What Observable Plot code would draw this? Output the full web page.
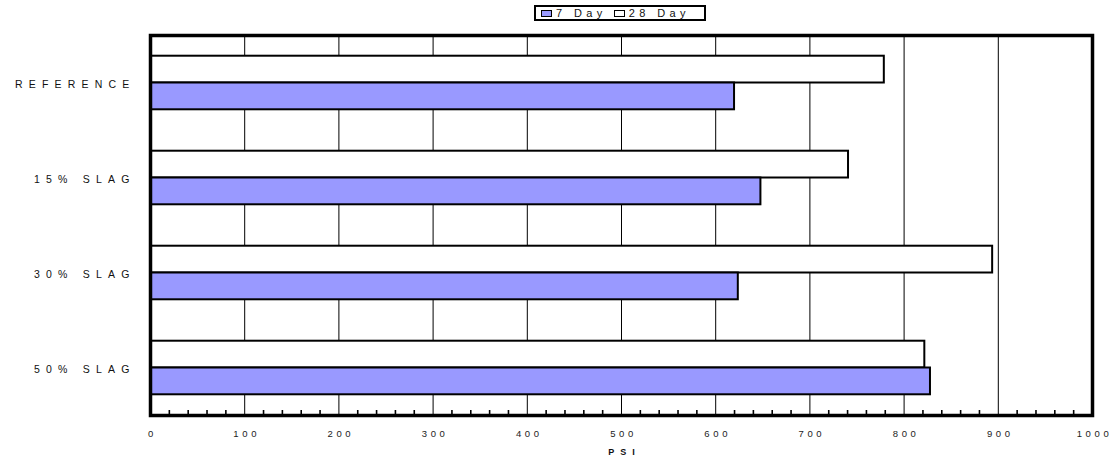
<!DOCTYPE html>
<html>
<head>
<meta charset="utf-8">
<script src="https://cdn.jsdelivr.net/npm/d3@7"></script>
<script src="https://cdn.jsdelivr.net/npm/@observablehq/plot@0.6"></script>
<style>
  body { margin: 0; background: #fff; font-family: "Liberation Sans", Arial, sans-serif; }
  #wrap { position: relative; width: 1114px; }
  #head { position: relative; height: 30px; }
  #legend {
    position: absolute; left: 534px; top: 5px; width: 172px; height: 16px;
    box-sizing: border-box; border: 2px solid #000; background: #fff;
    display: flex; align-items: center; font-size: 11px; color: #111;
  }
  #legend .item { display: flex; align-items: center; letter-spacing: 4.4px; }
  #legend .sw { width: 9px; height: 5px; border: 1.5px solid #000; margin: 0 4px 0 5px; }
  #legend .item + .item .sw { margin-left: 7px; }
  svg text { font-family: "Liberation Sans", Arial, sans-serif; }
  g[aria-label="y-axis tick label"] text { letter-spacing: 6.2px; fill: #111; }
  g[aria-label="x-axis tick label"] text { letter-spacing: 3.6px; fill: #222; }
  g[aria-label="text"] text { letter-spacing: 6px; fill: #111; }
</style>
</head>
<body>
<div id="wrap">
  <div id="head"><div id="legend"></div></div>
  <div id="chart"></div>
</div>
<script>
// Compressive strength by mix, 7-day and 28-day results (psi)
const categories = ["REFERENCE", "15% SLAG", "30% SLAG", "50% SLAG"];
const series = ["7 Day", "28 Day"];
const day7 = [620, 648, 624, 828];
const day28 = [779, 741, 894, 822];
const xTicks = [0, 100, 200, 300, 400, 500, 600, 700, 800, 900, 1000];
const seriesColors = ["#9999ff", "#ffffff"];

const rows7 = categories.map((c, i) => ({cat: c, psi: day7[i]}));
const rows28 = categories.map((c, i) => ({cat: c, psi: day28[i]}));

// gridlines at the labelled hundreds, small ticks every 20 along the bottom
const gridTicks = xTicks.filter(t => t > 0 && t < 1000);
const minorTicks = d3.range(20, 1000, 20).filter(t => t % 100 !== 0);

const width = 1114, height = 431;
const mTop = 5, mBottom = 46, mLeft = 150, mRight = 22;
const band = (height - mTop - mBottom) / categories.length;
const groupPad = band * 0.218;
const barH = band * 0.282;
const lastCat = categories[categories.length - 1];

const chart = Plot.plot({
  width, height,
  marginTop: mTop, marginBottom: mBottom, marginLeft: mLeft, marginRight: mRight,
  style: {background: "#fff", overflow: "visible"},
  x: {domain: [0, 1000]},
  y: {domain: categories, padding: 0},
  marks: [
    Plot.ruleX(gridTicks, {stroke: "#000", strokeWidth: 1}),
    Plot.tickX(minorTicks, {x: d => d, y: () => lastCat,
      insetTop: band - 5, stroke: "#000", strokeWidth: 1.6}),
    Plot.barX(rows28, {x: "psi", y: "cat", fill: seriesColors[1], stroke: "#000", strokeWidth: 2,
      insetTop: groupPad, insetBottom: band - groupPad - barH}),
    Plot.barX(rows7, {x: "psi", y: "cat", fill: seriesColors[0], stroke: "#000", strokeWidth: 2,
      insetTop: groupPad + barH, insetBottom: groupPad}),
    Plot.frame({stroke: "#000", strokeWidth: 3.5}),
    Plot.axisX({ticks: xTicks, tickFormat: d => String(d), tickSize: 0, tickPadding: 15,
      fontSize: 9.5, dx: 2, label: null}),
    Plot.axisY({tickSize: 0, tickPadding: 15, fontSize: 10.5, dy: 2, label: null}),
    Plot.text(["PSI"], {frameAnchor: "bottom", dy: 39, dx: 3, fontSize: 9, fontWeight: "bold"})
  ]
});
document.getElementById("chart").appendChild(chart);

// legend box above the plot
const legend = d3.select("#legend");
series.forEach((s, i) => {
  const item = legend.append("div").attr("class", "item");
  item.append("div").attr("class", "sw").style("background", seriesColors[i]);
  item.append("span").text(s);
});
</script>
</body>
</html>
